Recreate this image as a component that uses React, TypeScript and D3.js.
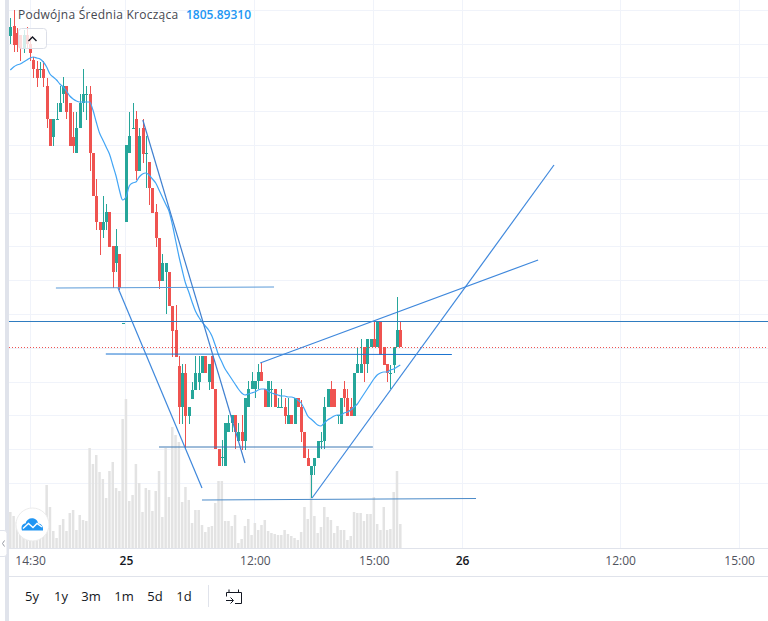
import { useRef, useEffect } from 'react'
import * as d3 from 'd3'

const opens = [1838.8,1839.8,1839.1,1838.9,1837.6,1838.9,1838.0,1836.4,1835.5,1835.5,1835.5,1833.8,1830.5,1828.7,1830.5,1831.2,1833.0,1833.8,1832.1,1828.7,1827.1,1829.6,1832.1,1833.0,1833.0,1827.1,1822.8,1820.2,1819.4,1820.2,1821.2,1817.8,1816.1,1817.0,1810.1,1820.2,1827.1,1829.6,1830.5,1825.3,1829.6,1827.1,1826.2,1823.6,1821.2,1818.6,1814.3,1815.2,1815.2,1811.8,1809.4,1805.8,1801.7,1805.1,1800.8,1802.5,1803.4,1804.2,1805.1,1806.8,1804.2,1806.8,1803.5,1797.5,1796.7,1795.8,1799.2,1800.1,1800.9,1798.3,1799.2,1798.3,1801.7,1803.5,1803.5,1804.3,1805.2,1803.5,1801.7,1803.5,1803.5,1801.7,1801.7,1801.7,1800.0,1800.9,1800.0,1802.6,1801.7,1799.2,1796.6,1794.9,1795.8,1796.6,1798.3,1798.3,1801.7,1803.5,1803.5,1800.9,1800.0,1803.5,1802.6,1801.7,1800.8,1805.1,1805.1,1807.7,1806.0,1807.7,1808.5,1807.7,1810.2,1807.7,1806.0,1805.1,1805.9,1807.7,1809.4]
const closes = [1839.7,1837.9,1837.9,1837.6,1838.9,1838.0,1837.1,1835.5,1834.6,1835.5,1834.6,1830.5,1827.8,1830.5,1830.5,1832.1,1833.8,1831.2,1827.8,1827.8,1829.6,1832.1,1833.0,1833.0,1827.1,1822.8,1820.2,1819.4,1820.2,1821.2,1817.7,1815.2,1817.8,1813.6,1810.1,1827.9,1828.8,1829.6,1825.3,1828.8,1827.0,1827.1,1823.6,1821.1,1818.6,1814.3,1816.1,1816.1,1811.8,1809.3,1806.7,1801.7,1805.1,1800.8,1801.7,1803.4,1805.1,1805.1,1806.8,1805.1,1806.0,1803.5,1797.5,1795.8,1796.7,1800.1,1800.1,1800.9,1799.2,1799.2,1798.3,1802.6,1803.5,1804.3,1804.3,1805.2,1804.3,1801.7,1804.3,1803.5,1801.7,1801.7,1801.7,1800.8,1800.9,1800.0,1802.6,1801.7,1799.2,1796.6,1795.8,1795.8,1796.6,1798.3,1798.3,1801.7,1803.5,1801.7,1801.7,1800.9,1802.6,1802.6,1800.8,1800.8,1805.1,1806.0,1806.0,1806.0,1808.5,1808.5,1807.7,1810.2,1806.9,1805.9,1805.1,1805.1,1807.7,1809.4,1807.7]
const highs = [1840.6,1841.4,1839.6,1838.9,1839.4,1839.7,1838.8,1836.7,1836.3,1836.2,1836.3,1834.6,1830.5,1830.5,1832.1,1833.8,1834.7,1833.8,1832.1,1831.2,1831.2,1833.0,1835.5,1833.8,1833.8,1827.1,1824.5,1820.2,1822.8,1822.0,1821.2,1817.8,1819.5,1817.0,1810.1,1827.9,1831.2,1832.1,1831.3,1829.6,1830.5,1828.8,1826.2,1823.6,1822.0,1818.6,1817.0,1816.1,1815.2,1811.8,1811.9,1806.8,1806.0,1806.0,1801.7,1804.2,1806.8,1806.8,1806.8,1806.8,1806.0,1806.8,1803.5,1797.5,1798.4,1800.1,1800.9,1800.9,1800.9,1800.1,1800.9,1802.6,1804.3,1805.2,1804.3,1806.0,1806.1,1803.5,1804.3,1804.3,1803.5,1802.6,1803.5,1802.6,1802.6,1800.9,1802.6,1802.6,1802.4,1799.2,1797.5,1795.8,1796.6,1798.3,1799.2,1802.7,1803.5,1804.3,1803.5,1800.9,1802.6,1804.3,1803.5,1802.6,1805.1,1807.7,1808.5,1807.7,1808.5,1808.5,1810.2,1810.2,1810.2,1807.7,1806.0,1805.9,1807.7,1812.7,1810.2]
const lows = [1838.0,1837.2,1837.2,1836.3,1837.1,1837.6,1836.3,1834.6,1833.7,1834.6,1833.7,1829.6,1827.8,1827.8,1830.5,1831.2,1832.1,1830.5,1827.8,1827.1,1827.1,1829.6,1831.2,1830.4,1825.3,1822.8,1819.4,1816.9,1818.6,1819.4,1817.7,1813.6,1815.2,1813.4,1810.1,1820.2,1827.1,1829.6,1824.4,1825.3,1826.1,1823.6,1821.9,1821.1,1817.7,1813.5,1814.3,1811.0,1811.8,1806.7,1806.7,1800.0,1800.0,1797.5,1800.0,1802.5,1803.4,1803.4,1805.1,1805.1,1803.4,1803.5,1797.5,1795.8,1795.8,1795.8,1799.2,1799.2,1797.5,1798.3,1797.4,1797.4,1801.7,1803.5,1802.6,1803.5,1804.3,1801.7,1801.7,1801.7,1801.7,1801.7,1801.7,1800.0,1800.0,1800.0,1800.0,1801.7,1798.2,1796.6,1795.8,1792.6,1794.9,1796.6,1797.5,1797.5,1801.7,1801.7,1801.7,1800.0,1800.0,1801.7,1800.8,1800.8,1800.8,1805.1,1805.1,1804.2,1805.1,1807.7,1807.7,1807.7,1806.9,1805.9,1804.2,1803.5,1805.1,1807.7,1807.7]
const volumes = [36,32,26,23,28,20,30,24,18,26,33,63,41,17,10,23,29,17,35,38,18,33,28,27,100,84,93,76,69,50,77,86,60,57,129,149,47,53,84,65,36,60,58,37,57,77,31,100,51,121,113,106,46,61,48,25,38,38,23,16,21,22,45,67,67,27,27,22,33,5,9,22,29,13,25,18,23,28,17,15,14,13,13,18,14,12,10,8,16,41,29,73,32,15,21,41,31,28,15,22,18,18,8,12,36,35,35,27,34,34,51,24,18,41,18,19,56,77,24]
const movingAverage = [1835.4,1835.7,1835.9,1836.0,1836.2,1836.4,1836.6,1836.7,1836.6,1836.5,1836.2,1835.7,1835.0,1834.7,1834.4,1834.0,1833.7,1833.3,1832.8,1832.5,1832.3,1832.2,1832.2,1832.2,1832.2,1831.4,1830.2,1829.1,1828.4,1827.7,1827.0,1825.9,1824.8,1823.4,1822.4,1822.7,1823.8,1824.1,1824.2,1824.7,1825.0,1825.1,1824.9,1824.5,1824.1,1823.4,1822.7,1822.0,1821.3,1820.0,1818.4,1816.8,1815.4,1814.1,1813.2,1812.2,1811.3,1810.7,1810.2,1809.8,1809.4,1808.8,1807.9,1806.9,1806.2,1805.5,1805.0,1804.5,1804.0,1803.5,1803.1,1802.9,1803.0,1803.1,1803.2,1803.4,1803.5,1803.5,1803.3,1803.1,1803.0,1802.9,1802.8,1802.8,1802.7,1802.7,1802.6,1802.4,1802.1,1801.5,1800.8,1800.5,1800.2,1799.9,1799.8,1800.1,1800.4,1800.6,1800.8,1800.9,1800.9,1801.1,1801.2,1801.4,1801.7,1802.0,1802.5,1803.0,1803.5,1804.0,1804.5,1804.9,1805.1,1805.2,1805.2,1805.4,1805.5,1805.7,1805.9]

const priceGrid = [1841.38,1838,1834.62,1831.24,1827.86,1824.48,1821.1,1817.72,1814.34,1810.96,1807.58,1804.2,1800.82,1797.44,1794.06]
const timeTicks = [6, 35, 74, 110, 136.7, 184.5, 220.5]
const timeLabels = ['14:30', '25', '12:00', '15:00', '26', '12:00', '15:00']
const ranges = ['5y', '1y', '3m', '1m', '5d', '1d']
const rangeCenters = [32, 61, 91, 124, 155, 184]

// drawn trend lines: [index, price, index, price]
const drawings: [number, number, number, number][] = [
  [13.8, 1813.6, 79.8, 1813.7],
  [28.9, 1807.0, 133.6, 1806.95],
  [45, 1797.7, 109.7, 1797.7],
  [58, 1792.4, 140.9, 1792.55],
  [32.6, 1813.6, 58, 1793.6],
  [40.1, 1830.4, 71, 1796.1],
  [75.6, 1806.1, 159.7, 1816.4],
  [91.3, 1792.6, 164.5, 1825.9],
]
const drawingColors = ['#5a9ad8', '#1a73d0', '#3c78b4', '#4a8ac8', '#3f88dc', '#3f80d0', '#3f88dc', '#3f88dc']
const drawingWidths = [1, 1, 1, 1, 1.2, 1.2, 1.2, 1.2]
const priceLine = 1810.25
const lastPrice = 1807.7

const FONT = '"Open Sans", sans-serif'
const UP = '#26a69a'
const DOWN = '#ef5350'

export default function App() {
  const ref = useRef<SVGSVGElement>(null)

  useEffect(() => {
    if (!ref.current) return
    const svg = d3.select(ref.current)
    svg.selectAll('*').remove()
    const width = 768
    const height = 621
    const left = 9
    const plotBottom = 548

    const x = d3.scaleLinear().domain([0, 118]).range([10.3, 400.3])
    const y = d3.scaleLinear().domain([1842.4, 1788.9]).range([0, 535])
    const vol = d3.scaleLinear().domain([0, 149]).range([plotBottom, 399])
    const snap = (v: number) => Math.round(v - 0.5) + 0.5

    svg.append('rect').attr('width', width).attr('height', height).attr('fill', '#fff')
    const clip = svg.append('clipPath').attr('id', 'plot')
    clip.append('rect').attr('x', left).attr('y', 0).attr('width', width - left).attr('height', plotBottom)

    // grid
    const grid = svg.append('g').attr('stroke', '#f0f3fa').attr('shape-rendering', 'crispEdges')
    priceGrid.forEach(p => {
      grid.append('line').attr('x1', left).attr('x2', width).attr('y1', snap(y(p))).attr('y2', snap(y(p)))
    })
    timeTicks.forEach(t => {
      grid.append('line').attr('x1', snap(x(t))).attr('x2', snap(x(t))).attr('y1', 0).attr('y2', plotBottom)
    })

    const plot = svg.append('g').attr('clip-path', 'url(#plot)')

    // volume
    plot.append('g')
      .attr('fill', '#e3e3e3')
      .selectAll('rect')
      .data(volumes)
      .enter()
      .append('rect')
      .attr('x', (_, i) => x(i) - 1.25)
      .attr('width', 2.5)
      .attr('y', d => vol(d))
      .attr('height', d => plotBottom - vol(d))

    // candles
    const candles = plot.append('g').attr('shape-rendering', 'crispEdges')
    opens.forEach((open, i) => {
      const close = closes[i]
      const color = close >= open ? UP : DOWN
      const cx = Math.round(x(i))
      candles.append('rect')
        .attr('x', cx - 0.5)
        .attr('width', 1)
        .attr('y', y(highs[i]))
        .attr('height', Math.max(1, y(lows[i]) - y(highs[i])))
        .attr('fill', color)
      const top = Math.min(y(open), y(close))
      const bodyH = Math.max(1, Math.abs(y(open) - y(close)))
      candles.append('rect')
        .attr('x', cx - 1.5)
        .attr('width', 3)
        .attr('y', top)
        .attr('height', bodyH)
        .attr('fill', color)
    })

    // moving average
    const maLine = d3.line<number>().x((_, i) => x(i)).y(d => y(d)).curve(d3.curveMonotoneX)
    plot.append('path')
      .attr('d', maLine(movingAverage))
      .attr('fill', 'none')
      .attr('stroke', '#42a5f5')
      .attr('stroke-width', 1.2)

    // price lines
    plot.append('line')
      .attr('x1', left).attr('x2', width)
      .attr('y1', snap(y(priceLine))).attr('y2', snap(y(priceLine)))
      .attr('stroke', '#2f7cc0')
      .attr('shape-rendering', 'crispEdges')
    plot.append('line')
      .attr('x1', left).attr('x2', width)
      .attr('y1', snap(y(lastPrice))).attr('y2', snap(y(lastPrice)))
      .attr('stroke', DOWN)
      .attr('stroke-dasharray', '1 2')
      .attr('shape-rendering', 'crispEdges')

    // drawn lines
    drawings.forEach((d, i) => {
      plot.append('line')
        .attr('x1', x(d[0])).attr('y1', y(d[1]))
        .attr('x2', x(d[2])).attr('y2', y(d[3]))
        .attr('stroke', drawingColors[i])
        .attr('stroke-width', drawingWidths[i])
    })

    // legend
    svg.append('text').attr('x', 18).attr('y', 19)
      .attr('font-family', FONT).attr('font-size', 12).attr('fill', '#434651')
      .attr('letter-spacing', 0.25)
      .text('Podwójna Średnia Krocząca')
    svg.append('text').attr('x', 186).attr('y', 19)
      .attr('font-family', FONT).attr('font-size', 12).attr('font-weight', 600).attr('fill', '#2196f3')
      .text('1805.89310')

    // collapse button
    svg.append('rect').attr('x', 18.5).attr('y', 28.5).attr('width', 28).attr('height', 20).attr('rx', 3)
      .attr('fill', 'rgba(255,255,255,0.8)').attr('stroke', '#dcdfe8')
    svg.append('path').attr('d', 'M28.5 41 L32.5 37 L36.5 41')
      .attr('fill', 'none').attr('stroke', '#131722').attr('stroke-width', 1.4)

    // logo
    svg.append('circle').attr('cx', 32.5).attr('cy', 524.5).attr('r', 16.5)
      .attr('fill', '#fff').attr('stroke', '#ececec')
    svg.append('path')
      .attr('d', 'M22 530.5 C20.5 526 23 523.5 25.5 523.5 C26.5 519.5 30 517.5 34 518.5 C37 519.5 38 522 38 523.5 C41.5 523.5 43.5 526.5 43 530.5 Z')
      .attr('fill', '#2196f3')
    svg.append('path')
      .attr('d', 'M23 528.5 L28.5 523.5 L33 527.5 L37 523.5 L42 527')
      .attr('fill', 'none').attr('stroke', '#fff').attr('stroke-width', 1.4)

    // time axis
    const axisGroup = svg.append('g')
      .attr('transform', `translate(0,${plotBottom})`)
      .call(
        d3.axisBottom(x)
          .tickValues(timeTicks)
          .tickFormat((_, i) => timeLabels[i])
          .tickSize(0)
          .tickPadding(8)
      )
    axisGroup.select('.domain').remove()
    axisGroup.selectAll('text')
      .attr('font-family', FONT)
      .attr('font-size', 12)
      .attr('font-weight', (_, i) => (timeLabels[i] === '25' || timeLabels[i] === '26' ? 600 : 400))
      .attr('fill', (_, i) => (timeLabels[i] === '25' || timeLabels[i] === '26' ? '#131722' : '#50535e'))
    svg.append('line').attr('x1', left).attr('x2', width).attr('y1', plotBottom + 0.5).attr('y2', plotBottom + 0.5)
      .attr('stroke', '#e0e3eb')
    svg.append('line').attr('x1', left).attr('x2', width).attr('y1', 576.5).attr('y2', 576.5)
      .attr('stroke', '#e0e3eb')

    // left side strip and handle
    svg.append('rect').attr('x', 5).attr('y', 0).attr('width', 4).attr('height', height).attr('fill', '#e0e3eb')
    svg.append('rect').attr('x', -4).attr('y', 530.5).attr('width', 11).attr('height', 26).attr('rx', 3)
      .attr('fill', '#fff').attr('stroke', '#e0e3eb')
    svg.append('path').attr('d', 'M4.5 540.5 L2.5 543.5 L4.5 546.5')
      .attr('fill', 'none').attr('stroke', '#9598a1')

    // range buttons
    ranges.forEach((r, i) => {
      svg.append('text').attr('x', rangeCenters[i]).attr('y', 601)
        .attr('text-anchor', 'middle')
        .attr('font-family', FONT).attr('font-size', 13).attr('fill', '#131722')
        .text(r)
    })
    svg.append('line').attr('x1', 208.5).attr('x2', 208.5).attr('y1', 585).attr('y2', 607).attr('stroke', '#e0e3eb')

    // go to date icon
    svg.append('path')
      .attr('d', 'M228 592.5 H241.5 V603.5 H235 M226.5 596.5 V592.5 H228 M229 589.5 V592 M238.5 589.5 V592 M226 600.5 H233 M230.5 597.5 L233.5 600.5 L230.5 603.5')
      .attr('fill', 'none').attr('stroke', '#131722').attr('stroke-width', 1)
  }, [])

  return <svg ref={ref} width={768} height={621} style={{ position: 'absolute', top: 0, left: 0 }} />
}
